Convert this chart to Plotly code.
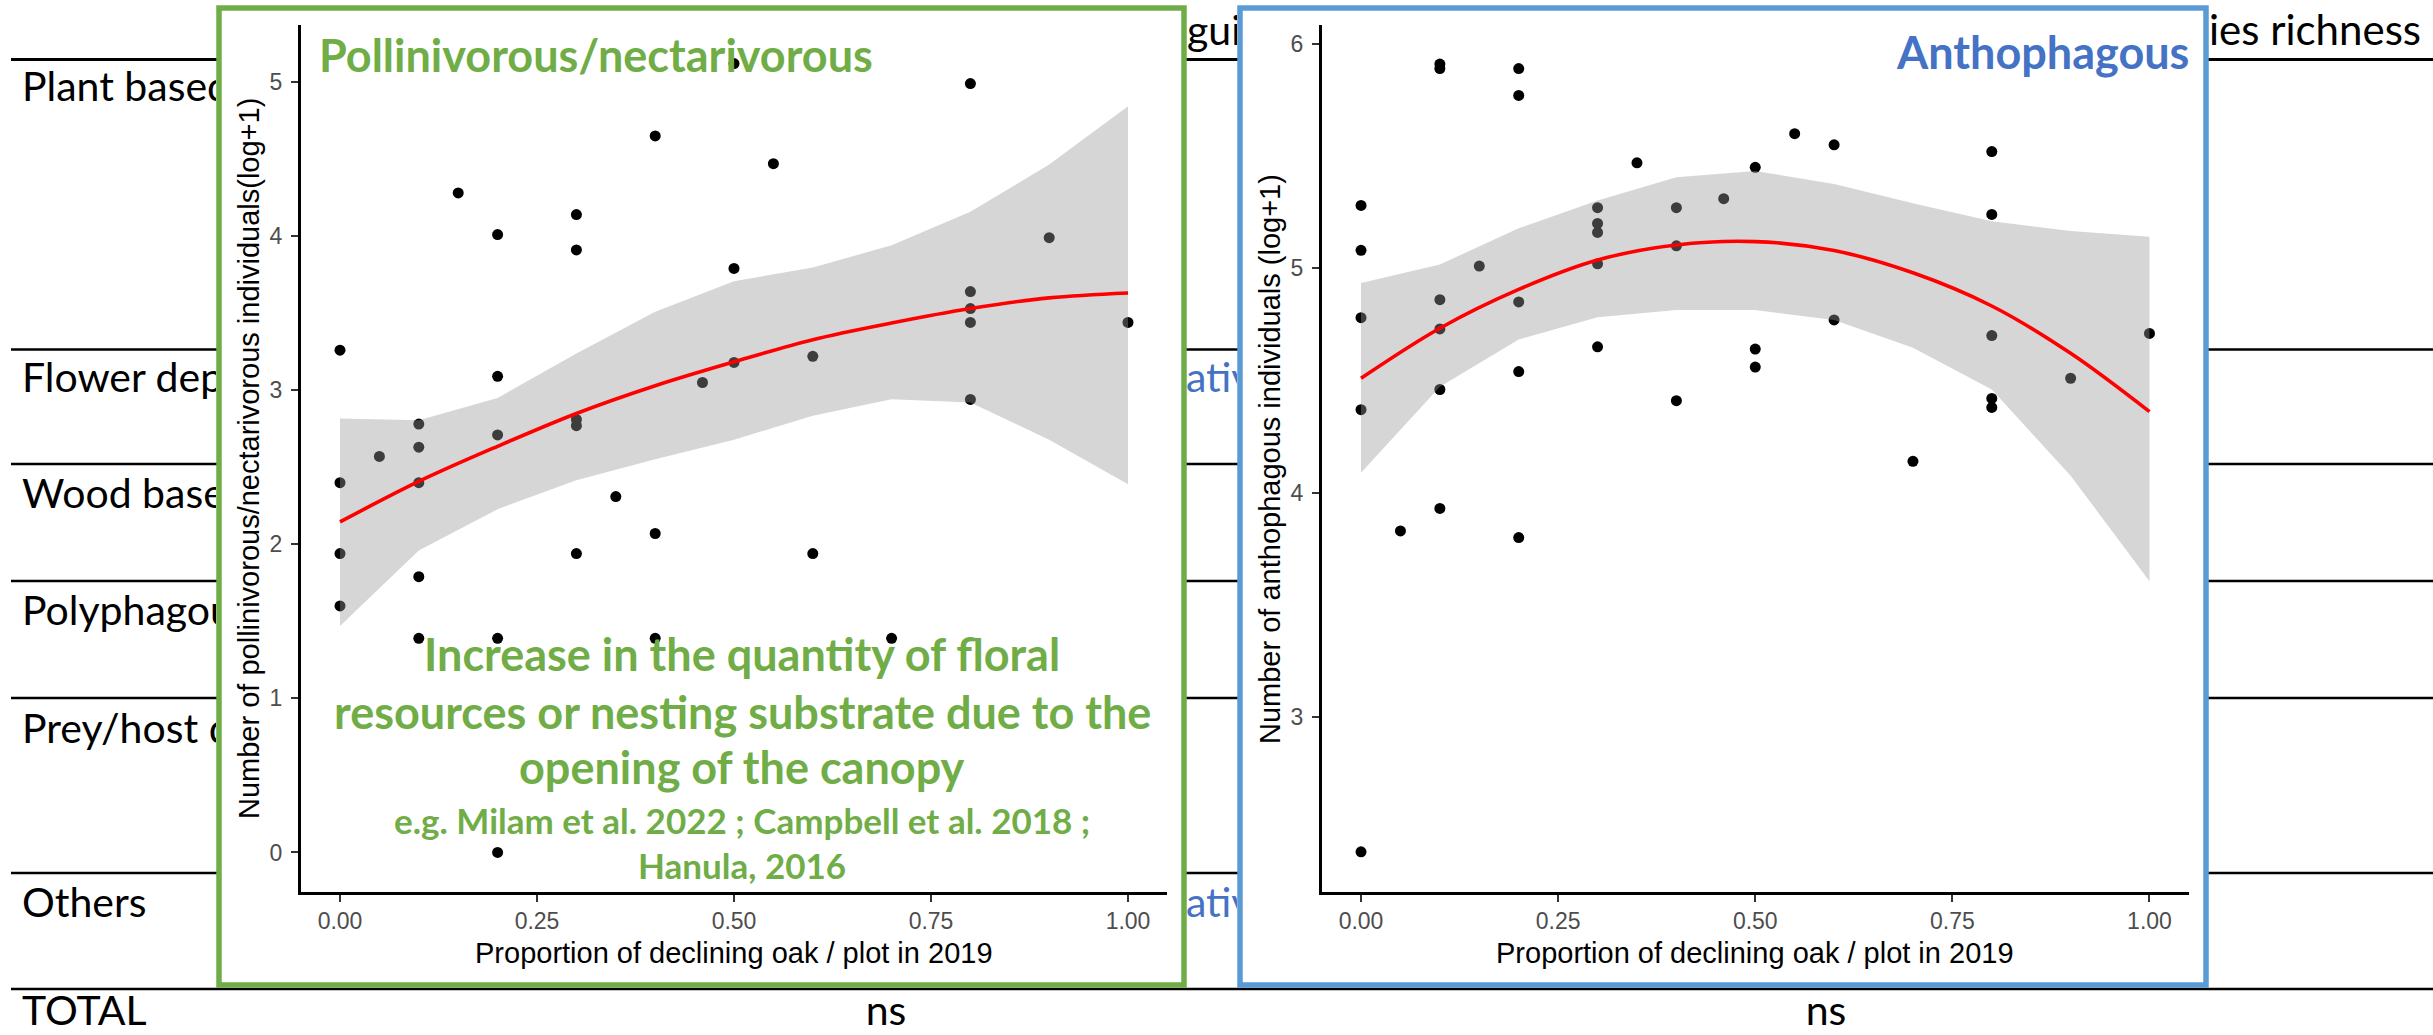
import plotly.graph_objects as go

W, H = 2433, 1035

# ---------------- data ----------------
# Pollinivorous / nectarivorous panel
poll_x = [0, 0, 0, 0, 0.05, 0.1, 0.1, 0.1, 0.1, 0.1, 0.15, 0.2, 0.2, 0.2, 0.2, 0.2,
          0.3, 0.3, 0.3, 0.3, 0.3, 0.35, 0.4, 0.4, 0.4, 0.46, 0.5, 0.5, 0.5, 0.55,
          0.6, 0.6, 0.7, 0.8, 0.8, 0.8, 0.8, 0.8, 0.9, 1.0]
poll_y = [3.26, 2.40, 1.94, 1.60, 2.57, 2.78, 2.63, 2.40, 1.79, 1.39, 4.28, 4.01, 3.09, 2.71, 1.39, 0.0,
          4.14, 3.91, 2.81, 2.77, 1.94, 2.31, 4.65, 2.07, 1.39, 3.05, 5.12, 3.79, 3.18, 4.47,
          3.22, 1.94, 1.39, 4.99, 3.64, 3.53, 3.44, 2.94, 3.99, 3.44]
poll_fit_x = [0, 0.1, 0.2, 0.3, 0.4, 0.5, 0.6, 0.7, 0.8, 0.9, 1.0]
poll_fit_y = [2.145, 2.408, 2.636, 2.849, 3.029, 3.184, 3.328, 3.436, 3.530, 3.599, 3.631]
poll_ci_hi = [2.816, 2.805, 2.95, 3.238, 3.509, 3.707, 3.797, 3.94, 4.158, 4.465, 4.843]
poll_ci_lo = [1.470, 1.96, 2.228, 2.415, 2.552, 2.679, 2.834, 2.942, 2.92, 2.679, 2.39]

# Anthophagous panel
antho_x = [0, 0, 0, 0, 0, 0.05, 0.1, 0.1, 0.1, 0.1, 0.1, 0.1, 0.15, 0.2, 0.2, 0.2, 0.2, 0.2,
           0.3, 0.3, 0.3, 0.3, 0.3, 0.35, 0.4, 0.4, 0.4, 0.46, 0.5, 0.5, 0.5, 0.55,
           0.6, 0.6, 0.7, 0.8, 0.8, 0.8, 0.8, 0.8, 0.9, 1.0]
antho_y = [5.28, 5.08, 4.78, 4.37, 2.40, 3.83, 5.91, 5.89, 4.86, 4.73, 4.46, 3.93, 5.01, 5.89, 5.77, 4.85, 4.54, 3.80,
           5.27, 5.20, 5.16, 5.02, 4.65, 5.47, 5.27, 5.10, 4.41, 5.31, 5.45, 4.64, 4.56, 5.60,
           5.55, 4.77, 4.14, 5.52, 5.24, 4.70, 4.42, 4.38, 4.51, 4.71]
antho_fit_x = [0, 0.1, 0.2, 0.3, 0.4, 0.5, 0.6, 0.7, 0.8, 0.9, 1.0]
antho_fit_y = [4.51, 4.733, 4.906, 5.037, 5.104, 5.119, 5.079, 4.98, 4.832, 4.621, 4.361]
antho_ci_hi = [4.935, 5.017, 5.178, 5.302, 5.406, 5.433, 5.376, 5.29, 5.21, 5.166, 5.141]
antho_ci_lo = [4.089, 4.472, 4.683, 4.782, 4.814, 4.814, 4.77, 4.646, 4.46, 4.076, 3.606]

x_tickvals = [0, 0.25, 0.5, 0.75, 1.0]
x_ticktext = ["0.00", "0.25", "0.50", "0.75", "1.00"]
poll_yticks = [0, 1, 2, 3, 4, 5]
antho_yticks = [3, 4, 5, 6]

# row labels of the table behind the panels (only their visible parts are shown)
row_labels = ["Plant based", "Flower dep", "Wood based", "Polyphagou",
              "Prey/host d", "Others"]
row_label_y = [91, 382, 498, 615, 733, 907]
total_row = ["TOTAL", "ns", "ns"]
total_row_x = [22, 886, 1826]
total_row_y = 1015
table_lines_y = [59.5, 349.5, 464, 581, 698, 873, 989]

x_title = "Proportion of declining oak / plot in 2019"
poll_ytitle = "Number of pollinivorous/nectarivorous individuals(log+1)"
antho_ytitle = "Number of anthophagous individuals (log+1)"

green = "#70AD47"
blue_txt = "#4472C4"
blue_border = "#5B9BD5"
TABLE_FS = 41


def px(p):
    return p / W


def py(p):
    return 1 - p / H


fig = go.Figure()

# ---- table background text (clipped into the visible strips around the panels) ----
fig.add_trace(go.Scatter(x=[22] * len(row_labels), y=row_label_y, mode="text", text=row_labels,
                         textposition="middle right",
                         textfont=dict(family="Lato", size=TABLE_FS, color="black"),
                         xaxis="x3", yaxis="y3", cliponaxis=True, hoverinfo="skip"))
fig.add_trace(go.Scatter(x=[1187], y=[35], mode="text", text=["gui"],
                         textposition="middle right",
                         textfont=dict(family="Lato", size=TABLE_FS, color="black"),
                         xaxis="x4", yaxis="y4", cliponaxis=True, hoverinfo="skip"))
fig.add_trace(go.Scatter(x=[1186, 1186], y=[382, 907], mode="text", text=["ativ", "ativ"],
                         textposition="middle right",
                         textfont=dict(family="Lato", size=TABLE_FS, color=blue_txt),
                         xaxis="x4", yaxis="y4", cliponaxis=True, hoverinfo="skip"))
fig.add_trace(go.Scatter(x=[2209], y=[34], mode="text", text=["ies richness"],
                         textposition="middle right",
                         textfont=dict(family="Lato", size=TABLE_FS + 1, color="black"),
                         xaxis="x5", yaxis="y5", cliponaxis=True, hoverinfo="skip"))
fig.add_trace(go.Scatter(x=total_row_x, y=[total_row_y] * 3, mode="text", text=total_row,
                         textposition=["middle right", "middle center", "middle center"],
                         textfont=dict(family="Lato", size=TABLE_FS, color="black"),
                         xaxis="x6", yaxis="y6", cliponaxis=False, hoverinfo="skip"))

# ---- left panel ----
fig.add_trace(go.Scatter(x=poll_x, y=poll_y, mode="markers",
                         marker=dict(color="black", size=11), xaxis="x", yaxis="y", hoverinfo="skip"))
fig.add_trace(go.Scatter(x=poll_fit_x + poll_fit_x[::-1], y=poll_ci_hi + poll_ci_lo[::-1],
                         mode="lines", fill="toself", fillcolor="rgba(153,153,153,0.4)",
                         line=dict(width=0), xaxis="x", yaxis="y", hoverinfo="skip"))
fig.add_trace(go.Scatter(x=poll_fit_x, y=poll_fit_y, mode="lines",
                         line=dict(color="#FF0000", width=3.6, shape="spline"), xaxis="x", yaxis="y",
                         hoverinfo="skip"))

# ---- right panel ----
fig.add_trace(go.Scatter(x=antho_x, y=antho_y, mode="markers",
                         marker=dict(color="black", size=11), xaxis="x2", yaxis="y2", hoverinfo="skip"))
fig.add_trace(go.Scatter(x=antho_fit_x + antho_fit_x[::-1], y=antho_ci_hi + antho_ci_lo[::-1],
                         mode="lines", fill="toself", fillcolor="rgba(153,153,153,0.4)",
                         line=dict(width=0), xaxis="x2", yaxis="y2", hoverinfo="skip"))
fig.add_trace(go.Scatter(x=antho_fit_x, y=antho_fit_y, mode="lines",
                         line=dict(color="#FF0000", width=3.6, shape="spline"), xaxis="x2", yaxis="y2",
                         hoverinfo="skip"))

tickfont = dict(family="Liberation Sans", size=23, color="#4D4D4D")
common_x = dict(range=[-0.05, 1.05], tickvals=x_tickvals, ticktext=x_ticktext, ticks="outside",
                ticklen=7, tickwidth=1.5, tickcolor="#333333", showline=True, linecolor="black",
                linewidth=2.5, showgrid=False, zeroline=False, tickfont=tickfont,
                ticklabelstandoff=0, fixedrange=True, automargin=False)
common_y = dict(ticks="outside", ticklen=7, tickwidth=1.5, tickcolor="#333333", showline=True,
                linecolor="black", linewidth=2.5, showgrid=False, zeroline=False, tickfont=tickfont,
                ticklabelstandoff=4, fixedrange=True, automargin=False)

hidden = dict(visible=False, fixedrange=True, showgrid=False, zeroline=False)

fig.update_layout(
    width=W, height=H, margin=dict(l=0, r=0, t=0, b=0), showlegend=False,
    paper_bgcolor="white", plot_bgcolor="rgba(0,0,0,0)",
    xaxis=dict(common_x, domain=[px(300.6), px(1167.4)], anchor="y"),
    yaxis=dict(common_y, domain=[py(892), py(25)], range=[-0.2565, 5.37], tickvals=poll_yticks, anchor="x"),
    xaxis2=dict(common_x, domain=[px(1321.6), px(2188.9)], anchor="y2"),
    yaxis2=dict(common_y, domain=[py(892), py(25)], range=[2.221, 6.084], tickvals=antho_yticks, anchor="x2"),
    xaxis3=dict(hidden, domain=[0, px(216)], range=[0, 216], anchor="y3"),
    yaxis3=dict(hidden, domain=[py(990), 1], range=[990, 0], anchor="x3"),
    xaxis4=dict(hidden, domain=[px(1187), px(1237)], range=[1187, 1237], anchor="y4"),
    yaxis4=dict(hidden, domain=[0, 1], range=[H, 0], anchor="x4"),
    xaxis5=dict(hidden, domain=[px(2209), 1], range=[2209, W], anchor="y5"),
    yaxis5=dict(hidden, domain=[0, 1], range=[H, 0], anchor="x5"),
    xaxis6=dict(hidden, domain=[0, 1], range=[0, W], anchor="y6"),
    yaxis6=dict(hidden, domain=[0, py(990)], range=[H, 990], anchor="x6"),
)

shapes = []
for i, ly in enumerate(table_lines_y):
    shapes.append(dict(type="line", xref="paper", yref="paper", x0=px(11), x1=1, y0=py(ly), y1=py(ly),
                       line=dict(color="black", width=3 if i == 0 else 2.5), layer="below"))
# white panel backgrounds
shapes.append(dict(type="rect", xref="paper", yref="paper", x0=px(219), x1=px(1184), y0=py(985), y1=py(8),
                   fillcolor="white", line=dict(width=0), layer="below"))
shapes.append(dict(type="rect", xref="paper", yref="paper", x0=px(1240), x1=px(2206), y0=py(985), y1=py(8),
                   fillcolor="white", line=dict(width=0), layer="below"))
# panel borders
shapes.append(dict(type="rect", xref="paper", yref="paper", x0=px(219), x1=px(1184), y0=py(985), y1=py(8),
                   line=dict(color=green, width=5.5), layer="above"))
shapes.append(dict(type="rect", xref="paper", yref="paper", x0=px(1240), x1=px(2206), y0=py(985), y1=py(8),
                   line=dict(color=blue_border, width=5.5), layer="above"))
fig.update_layout(shapes=shapes)

ann = []


def add_text(text, x, y, size, color, family, xanchor="center", angle=0):
    ann.append(dict(text=text, x=px(x), y=py(y), xref="paper", yref="paper", showarrow=False,
                    xanchor=xanchor, yanchor="middle", textangle=angle,
                    font=dict(family=family, size=size, color=color)))


# axis titles
add_text(x_title, 734, 953, 29, "black", "Liberation Sans")
add_text(x_title, 1755, 953, 29, "black", "Liberation Sans")
add_text(poll_ytitle, 249, 459, 29, "black", "Liberation Sans", angle=-90)
add_text(antho_ytitle, 1270, 459, 29, "black", "Liberation Sans", angle=-90)

# panel titles
add_text("<b>Pollinivorous/nectarivorous</b>", 317, 55, 45, green, "Lato", xanchor="left")
add_text("<b>Anthophagous</b>", 2191, 52, 45, blue_txt, "Lato", xanchor="right")

# green explanatory text
add_text("<b>Increase in the quantity of floral</b>", 742, 654, 45, green, "Lato")
add_text("<b>resources or nesting substrate due to the</b>", 742, 712, 45, green, "Lato")
add_text("<b>opening of the canopy</b>", 742, 767, 45, green, "Lato")
add_text("<b>e.g. Milam et al. 2022 ; Campbell et al. 2018 ;</b>", 742, 820, 35, green, "Lato")
add_text("<b>Hanula, 2016</b>", 742, 865, 35, green, "Lato")

fig.update_layout(annotations=ann)

fig.write_html("out.html", config={"displayModeBar": False},
               post_script="document.body.style.margin='0';document.body.style.overflow='hidden';")
